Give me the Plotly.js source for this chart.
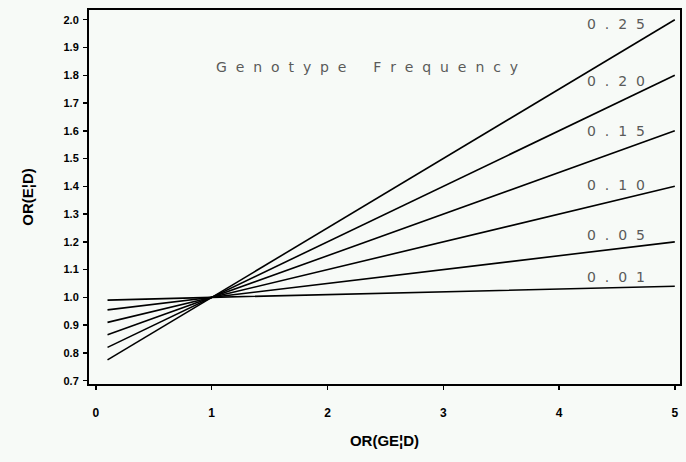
<!DOCTYPE html>
<html>
<head>
<meta charset="utf-8">
<script src="https://cdn.plot.ly/plotly-3.0.1.min.js"></script>
<style>
html,body{margin:0;padding:0;background:#f7faf7;}
#chart{width:686px;height:462px;}
</style>
</head>
<body>
<div id="chart"></div>
<script>
// OR(GE|D) sample points (start, crossing, end)
var xPoints = [0.1, 1, 5];
var freqLabels = ["0.25", "0.20", "0.15", "0.10", "0.05", "0.01"];
var yF25 = [0.775, 1.0, 2.0];
var yF20 = [0.82, 1.0, 1.8];
var yF15 = [0.865, 1.0, 1.6];
var yF10 = [0.91, 1.0, 1.4];
var yF05 = [0.955, 1.0, 1.2];
var yF01 = [0.99, 1.0, 1.04];
var seriesY = [yF25, yF20, yF15, yF10, yF05, yF01];
var labelY = [1.985, 1.78, 1.6, 1.405, 1.225, 1.075];
var labelX = 4.49;
var yTicks = [0.7, 0.8, 0.9, 1.0, 1.1, 1.2, 1.3, 1.4, 1.5, 1.6, 1.7, 1.8, 1.9, 2.0];
var yTickText = ["0.7","0.8","0.9","1.0","1.1","1.2","1.3","1.4","1.5","1.6","1.7","1.8","1.9","2.0"];
var xTicks = [0, 1, 2, 3, 4, 5];
var titleText = "Genotype Frequency";

function spaced(s){
  return s.split("").map(function(c){return c === " " ? "\u00A0\u00A0" : c;}).join("\u00A0\u00A0");
}

var traces = seriesY.map(function(ys, i){
  return {x: xPoints, y: ys, type: "scatter", mode: "lines",
    line: {color: "#000", width: 1.6}, name: freqLabels[i], hoverinfo: "skip"};
});

var annFont = {family: "DejaVu Sans", size: 14, color: "#5a5a5a"};
var annotations = freqLabels.map(function(t, i){
  return {x: labelX, y: labelY[i], xref: "x", yref: "y", text: spaced(t),
    showarrow: false, font: annFont, xanchor: "center", yanchor: "middle"};
});
annotations.push({x: 2.34, y: 1.83, xref: "x", yref: "y", text: spaced(titleText),
  showarrow: false, font: annFont, xanchor: "center", yanchor: "middle"});

var layout = {
  width: 686, height: 462,
  margin: {l: 89, r: 6, t: 10, b: 78},
  paper_bgcolor: "#f7faf7", plot_bgcolor: "#f7faf7",
  showlegend: false,
  font: {family: "Liberation Sans", color: "#000"},
  xaxis: {
    range: [-0.06, 5.045], tickvals: xTicks, ticktext: xTicks.map(String),
    ticks: "outside", ticklen: 4, tickwidth: 1.5, tickcolor: "#000",
    showline: true, linecolor: "#000", linewidth: 2, mirror: true,
    showgrid: false, zeroline: false, ticklabelstandoff: 13,
    tickfont: {family: "Liberation Sans", size: 12, color: "#000", weight: "bold"},
    title: {text: "OR(GE\u00A6D)", font: {family: "Liberation Sans", size: 15, color: "#000", weight: "bold"}, standoff: 16}
  },
  yaxis: {
    range: [0.688, 2.035], tickvals: yTicks, ticktext: yTickText,
    ticks: "outside", ticklen: 4, tickwidth: 1.5, tickcolor: "#000",
    showline: true, linecolor: "#000", linewidth: 2, mirror: true,
    showgrid: false, zeroline: false, ticklabelstandoff: 2,
    tickfont: {family: "Liberation Sans", size: 11, color: "#000", weight: "bold"},
    title: {text: "OR(E\u00A6D)", font: {family: "Liberation Sans", size: 15, color: "#000", weight: "bold"}, standoff: 26}
  },
  annotations: annotations
};

Plotly.newPlot("chart", traces, layout, {displayModeBar: false, staticPlot: true});
</script>
</body>
</html>
